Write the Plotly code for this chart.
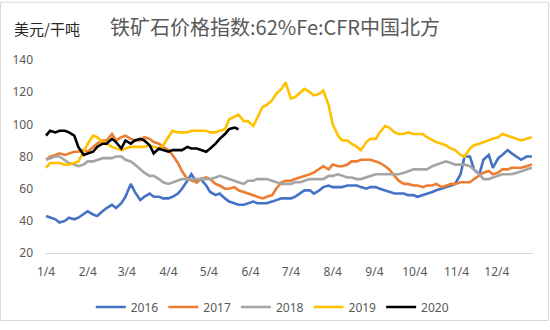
import pandas as pd
import plotly.graph_objects as go

# Twice-weekly observation dates (month/day) on a common calendar
DATES = [
    "1/4", "1/7", "1/11", "1/14", "1/18", "1/21", "1/25", "1/28", "2/1", "2/4",
    "2/8", "2/11", "2/15", "2/18", "2/22", "2/25", "2/29", "3/3", "3/7", "3/10",
    "3/14", "3/17", "3/21", "3/24", "3/28", "3/31", "4/4", "4/7", "4/11", "4/14",
    "4/18", "4/21", "4/25", "4/28", "5/2", "5/5", "5/9", "5/12", "5/16", "5/19",
    "5/23", "5/26", "5/30", "6/2", "6/6", "6/9", "6/13", "6/16", "6/20", "6/23",
    "6/27", "6/30", "7/4", "7/7", "7/11", "7/14", "7/18", "7/21", "7/25", "7/28",
    "8/1", "8/4", "8/8", "8/11", "8/15", "8/18", "8/22", "8/25", "8/29", "9/1",
    "9/5", "9/8", "9/12", "9/15", "9/19", "9/22", "9/26", "9/29", "10/3", "10/6",
    "10/10", "10/13", "10/17", "10/20", "10/24", "10/27", "10/31", "11/3", "11/7", "11/10",
    "11/14", "11/17", "11/21", "11/24", "11/28", "12/1", "12/5", "12/8", "12/12", "12/15",
    "12/19", "12/22", "12/26", "12/30",
]
# 2020 only runs to late May
DATES_2020 = DATES[:42]

# Price index, USD per dry tonne
P2016 = [43, 42, 41, 39, 40, 42, 41, 42, 44, 46,
         44, 43, 46, 48, 50, 48, 51, 55, 63, 58,
         53, 55, 57, 55, 55, 54, 54, 55, 57, 60,
         65, 69, 64, 66, 62, 58, 56, 57, 54, 52,
         51, 50, 50, 51, 52, 51, 51, 51, 52, 53,
         54, 54, 54, 55, 57, 59, 59, 57, 59, 61,
         62, 61, 61, 61, 62, 62, 62, 61, 60, 61,
         61, 60, 59, 58, 57, 57, 57, 56, 56, 55,
         56, 57, 58, 59, 60, 61, 62, 63, 69, 80,
         80, 72, 69, 78, 81, 73, 79, 81, 84, 82,
         80, 78, 80, 80]
P2017 = [78, 80, 81, 82, 81, 82, 83, 83, 84, 83,
         86, 88, 90, 90, 94, 90, 92, 93, 91, 90,
         90, 92, 91, 89, 88, 86, 84, 81, 76, 71,
         66, 65, 64, 66, 67, 66, 63, 62, 60, 60,
         61, 59, 58, 57, 56, 55, 54, 55, 56, 60,
         64, 65, 65, 66, 67, 68, 69, 70, 72, 74,
         72, 75, 74, 74, 75, 77, 77, 78, 78, 78,
         77, 76, 74, 72, 68, 65, 63, 63, 62, 62,
         61, 62, 62, 63, 61, 62, 63, 63, 64, 64,
         64, 66, 68, 70, 71, 69, 70, 72, 72, 73,
         73, 73, 74, 75]
P2018 = [78, 79, 80, 80, 78, 76, 75, 74, 75, 77,
         77, 78, 79, 79, 79, 80, 80, 78, 77, 75,
         72, 70, 68, 68, 66, 64, 63, 64, 65, 66,
         66, 66, 66, 66, 66, 66, 67, 68, 67, 66,
         65, 64, 63, 65, 65, 66, 66, 66, 65, 64,
         63, 63, 63, 64, 64, 65, 66, 66, 66, 66,
         68, 68, 69, 68, 67, 67, 66, 66, 67, 68,
         69, 69, 69, 69, 69, 69, 70, 71, 72, 72,
         72, 72, 74, 75, 76, 77, 76, 75, 75, 75,
         74, 72, 69, 66, 66, 67, 68, 69, 69, 69,
         70, 71, 72, 73]
P2019 = [73, 76, 76, 76, 75, 75, 76, 77, 83, 88,
         93, 92, 89, 88, 86, 85, 84, 85, 86, 86,
         86, 86, 87, 86, 85, 87, 92, 96, 95, 95,
         95, 96, 96, 96, 96, 95, 95, 96, 97, 103,
         105, 106, 102, 102, 99, 104, 111, 112, 115, 119,
         122, 126, 116, 117, 120, 122, 120, 118, 119, 121,
         112, 100, 93, 90, 90, 88, 86, 84, 89, 91,
         91, 95, 99, 98, 95, 94, 94, 95, 94, 94,
         94, 92, 90, 89, 88, 87, 85, 84, 81, 80,
         85, 87, 88, 89, 90, 91, 92, 94, 93, 92,
         91, 90, 91, 92]
P2020 = [93, 96, 95, 96, 96, 95, 93, 86, 81, 82,
         83, 86, 88, 88, 91, 89, 85, 90, 88, 90,
         91, 90, 87, 82, 85, 84, 83, 84, 84, 84,
         86, 85, 85, 84, 83, 85, 88, 91, 94, 97,
         98, 97]

TICK_DATES = ["1/4", "2/4", "3/4", "4/4", "5/4", "6/4",
              "7/4", "8/4", "9/4", "10/4", "11/4", "12/4"]
Y_TICKS = [20, 40, 60, 80, 100, 120, 140]

TITLE = "铁矿石价格指数:62%Fe:CFR中国北方"
UNIT = "美元/干吨"


def on_axis(md_list):
    # every year is laid over one common calendar (2016, a leap year)
    return pd.to_datetime(["2016/" + s for s in md_list], format="%Y/%m/%d")


series = [
    ("2016", DATES, P2016, "#4472C4"),
    ("2017", DATES, P2017, "#ED7D31"),
    ("2018", DATES, P2018, "#A5A5A5"),
    ("2019", DATES, P2019, "#FFC000"),
    ("2020", DATES_2020, P2020, "#000000"),
]

fig = go.Figure()
for name, dates, vals, color in series:
    assert len(dates) == len(vals), name
    fig.add_trace(go.Scatter(
        x=on_axis(dates), y=vals, name=name, mode="lines",
        line=dict(color=color, width=2.6),
    ))

W, H = 550, 330
ML, MR, MT, MB = 45, 17, 60, 71
pw, ph = W - ML - MR, H - MT - MB

fig.update_layout(
    width=W, height=H,
    margin=dict(l=ML, r=MR, t=MT, b=MB),
    paper_bgcolor="white", plot_bgcolor="white",
    font=dict(family="Noto Sans, Noto Sans CJK SC, sans-serif", size=12, color="#595959"),
    title=dict(
        text=TITLE, x=0.5, xref="container", xanchor="center",
        y=1 - 28 / H, yref="container", yanchor="middle",
        font=dict(family="Noto Sans CJK SC", size=20, color="#595959"),
    ),
    showlegend=True,
    legend=dict(
        orientation="h", x=0.495, xanchor="center", xref="container",
        y=1 - 307 / H, yanchor="middle", yref="container",
        font=dict(size=12, color="#595959"),
        bgcolor="rgba(0,0,0,0)",
    ),
    xaxis=dict(
        type="date",
        range=["2016-01-03 06:00", "2016-12-30 20:00"],
        tickmode="array",
        tickvals=on_axis(TICK_DATES),
        ticktext=TICK_DATES,
        showgrid=False, zeroline=False,
        showline=True, linecolor="#D9D9D9", linewidth=1,
        ticks="", ticklabelstandoff=8,
        tickfont=dict(size=12, color="#595959"),
    ),
    yaxis=dict(
        range=[20, 140],
        tickmode="array", tickvals=Y_TICKS,
        showgrid=False, zeroline=False, showline=False,
        ticks="", ticklabelstandoff=11,
        tickfont=dict(size=12, color="#595959"),
    ),
    annotations=[dict(
        text=UNIT, xref="paper", yref="paper",
        x=(12 - ML) / pw, y=(H - MB - 28) / ph,
        xanchor="left", yanchor="middle", showarrow=False,
        font=dict(family="Noto Sans CJK SC", size=15, color="#262626"),
    )],
    shapes=[dict(
        type="rect", xref="paper", yref="paper",
        x0=(0.5 - ML) / pw, x1=(W - 1.5 - ML) / pw,
        y0=(H - MB - (H - 1.5)) / ph, y1=(H - MB - 0.5) / ph,
        line=dict(color="#D9D9D9", width=1), fillcolor="rgba(0,0,0,0)",
        layer="below",
    )],
)

fig.write_html("out.html")
